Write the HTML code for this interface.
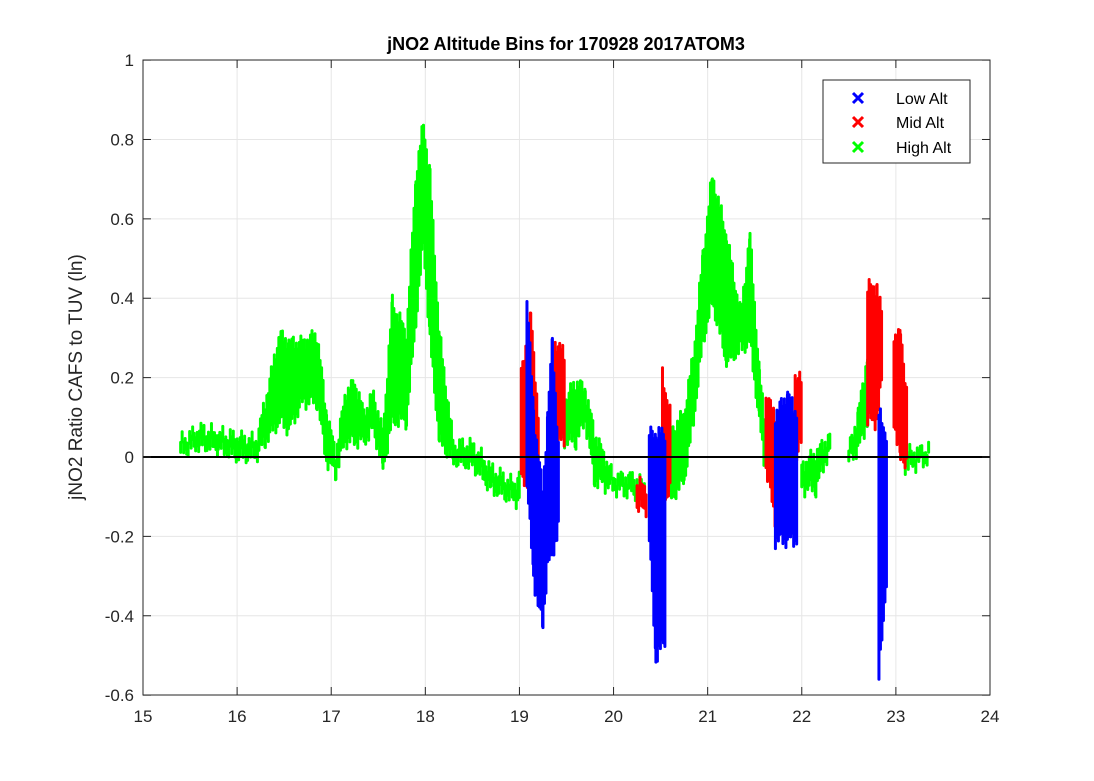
<!DOCTYPE html>
<html><head><meta charset="utf-8"><style>
body{margin:0;background:#fff;}
svg{display:block;font-family:"Liberation Sans",sans-serif;}
</style></head><body>
<svg id="s" width="1094" height="781" xmlns="http://www.w3.org/2000/svg">
<rect width="1094" height="781" fill="#fff"/>
<g id="grid"></g>
<g id="data"></g>
<g id="axes"></g>
</svg>
<script>
const NS="http://www.w3.org/2000/svg";
const X=t=>143+(t-15)*94.11, Y=v=>457-v*396.9;
function el(p,tag,a,txt){const e=document.createElementNS(NS,tag);for(const k in a)e.setAttribute(k,a[k]);if(txt!==undefined)e.textContent=txt;document.getElementById(p).appendChild(e);return e;}
// grid
for(let t=15;t<=24;t++){el('grid','line',{x1:X(t),x2:X(t),y1:60,y2:695,stroke:'#e6e6e6','stroke-width':1});}
for(let i=0;i<=8;i++){const v=-0.6+i*0.2;el('grid','line',{x1:143,x2:990,y1:Y(v),y2:Y(v),stroke:'#e6e6e6','stroke-width':1});}
// bands
function band(segs,col){
  let pts=[];
  for(let i=0;i<segs.length-1;i++){
    const [t0,l0,h0]=segs[i],[t1,l1,h1]=segs[i+1];
    if(t1-t0>0.25)continue;
    const x0=X(t0),x1=X(t1);
    for(let x=x0;x<=x1;x+=1.5){
      const f=(x-x0)/(x1-x0||1);
      const lo=l0+(l1-l0)*f,hi=h0+(h1-h0)*f;
      const j=(Math.sin(x*1.7)+Math.sin(x*0.63))*0.012;
      el('data','line',{x1:x,x2:x,y1:Y(lo+j)+3,y2:Y(hi+j)-3,stroke:col,'stroke-width':3,'stroke-linecap':'round'});
    }
  }
}
const G='#00ff00',R='#ff0000',B='#0000ff';
band([[15.4,.02,.03],[15.6,.04,.06],[15.8,.03,.05],[16.0,.01,.04],[16.2,.01,.03],[16.3,.05,.13],[16.45,.1,.3],[16.55,.08,.28],[16.7,.15,.28],[16.85,.15,.3],[16.95,0,.1],[17.05,-.03,0],[17.15,.05,.15],[17.25,.05,.18],[17.35,.05,.1],[17.45,.08,.15],[17.55,-.02,.05],[17.65,.1,.38],[17.8,.1,.3],[17.9,.35,.7],[17.98,.55,.83],[18.05,.3,.7],[18.15,.05,.3],[18.3,0,.02],[18.5,-.01,.02],[18.7,-.07,-.04],[18.95,-.1,-.08],[19.0,-.1,-.05]],G);
band([[19.4,.05,.1],[19.6,.05,.18],[19.7,.1,.16],[19.8,-.05,.05],[20.0,-.07,-.06],[20.2,-.08,-.06],[20.35,-.1,-.08]],G);
band([[20.6,-.1,.05],[20.75,-.05,.1],[20.85,.1,.25],[20.95,.3,.5],[21.05,.4,.7],[21.2,.25,.55],[21.35,.28,.35],[21.45,.3,.55],[21.55,.1,.2],[21.6,0,.1]],G);
band([[22.0,-.07,-.03],[22.15,-.07,0],[22.25,0,.03],[22.3,.02,.04]],G);
band([[22.5,0,.01],[22.6,.03,.1],[22.7,.1,.25],[22.75,.2,.25]],G);
band([[23.1,-.02,0],[23.3,0,.01],[23.35,0,.01]],G);
band([[19.02,-.05,.2],[19.12,-.05,.35],[19.2,0,.1]],R);
band([[19.38,.05,.28],[19.48,.05,.25]],R);
band([[20.25,-.12,-.08],[20.35,-.12,-.08]],R);
band([[20.52,-.1,.2],[20.6,-.08,.1]],R);
band([[21.62,-.02,.14],[21.72,-.15,.1]],R);
band([[21.93,0,.2],[22.0,.05,.18]],R);
band([[22.7,.1,.42],[22.8,.1,.42],[22.85,.2,.35]],R);
band([[22.98,.1,.3],[23.05,0,.3],[23.12,0,.15]],R);
band([[19.08,-.05,.4],[19.15,-.3,.1],[19.25,-.42,-.1],[19.3,-.25,.1],[19.35,-.25,.28],[19.42,-.15,0]],B);
band([[20.38,-.2,.05],[20.45,-.5,.05],[20.55,-.45,.05]],B);
band([[21.72,-.2,.1],[21.85,-.2,.15],[21.95,-.2,.1]],B);
band([[22.82,-.55,.1],[22.9,-.3,.05]],B);
// zero line & axes
el('axes','line',{x1:143,x2:990,y1:457,y2:457,stroke:'#000','stroke-width':2});
el('axes','rect',{x:143,y:60,width:847,height:635,fill:'none',stroke:'#262626','stroke-width':1});
for(let t=15;t<=24;t++){el('axes','line',{x1:X(t),x2:X(t),y1:695,y2:687,stroke:'#262626'});el('axes','line',{x1:X(t),x2:X(t),y1:60,y2:68,stroke:'#262626'});
 el('axes','text',{x:X(t),y:722,'text-anchor':'middle','font-size':17,fill:'#262626'},t);}
for(let i=0;i<=8;i++){const v=-0.6+i*0.2;const y=Y(v);el('axes','line',{x1:143,x2:151,y1:y,y2:y,stroke:'#262626'});el('axes','line',{x1:982,x2:990,y1:y,y2:y,stroke:'#262626'});
 let s=Math.abs(v)<1e-9?'0':(+v.toFixed(1)).toString();if(s==='1')s='1';
 el('axes','text',{x:134,y:y+6,'text-anchor':'end','font-size':17,fill:'#262626'},s);}
el('axes','text',{x:566,y:50,'text-anchor':'middle','font-size':18,'font-weight':'bold',fill:'#000'},'jNO2 Altitude Bins for 170928 2017ATOM3');
el('axes','text',{x:0,y:0,'text-anchor':'middle','font-size':19,fill:'#262626',transform:'translate(82,377) rotate(-90)'},'jNO2 Ratio CAFS to TUV (ln)');
// legend
el('axes','rect',{x:823,y:80,width:147,height:83,fill:'#fff',stroke:'#262626'});
[['Low Alt',B,98],['Mid Alt',R,122],['High Alt',G,147]].forEach(([n,c,y])=>{
 el('axes','path',{d:`M${853},${y-5}l10,10M${863},${y-5}l-10,10`,stroke:c,'stroke-width':3});
 el('axes','text',{x:896,y:y+6,'font-size':16,fill:'#000'},n);});
</script>
</body></html>
